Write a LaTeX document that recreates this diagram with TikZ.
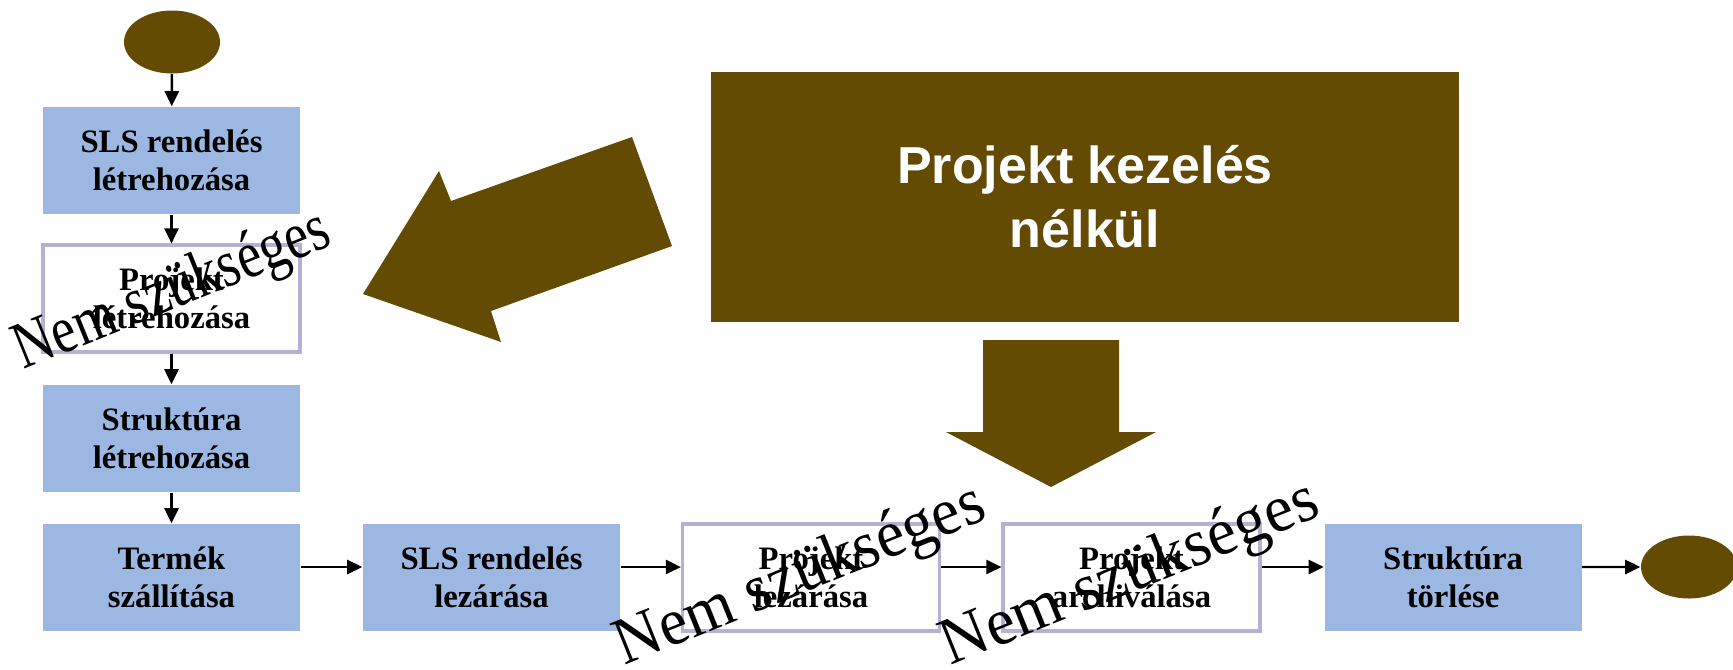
\documentclass[tikz,border=0pt]{standalone}
\usepackage{fontspec}
\usepackage{graphicx}
\setmainfont{Liberation Serif}
\newfontfamily\headfont{Liberation Sans}
\usetikzlibrary{arrows.meta,shapes.geometric}
\definecolor{brx}{RGB}{99,75,4}
\definecolor{blx}{RGB}{155,183,226}
\definecolor{lvx}{RGB}{180,177,211}
\tikzset{
    akti/.style={fill=blx,inner sep=0pt,minimum width=2.57cm,minimum height=1.07cm,
        align=center,font=\bfseries\fontsize{9.3}{10.8}\selectfont},
    proj/.style={akti,fill=white,draw=lvx,line width=0.9pt},
    ovx/.style={brx,fill,ellipse,inner sep=0pt,minimum width=0.96cm,minimum height=0.63cm},
    nyil/.style={-{Triangle[length=4.3pt,width=4pt]},line width=0.7pt},
    nemsz/.style={rotate=22,anchor=base west,inner sep=0pt,font=\fontsize{19}{22}\selectfont}
}

\begin{document}
\begin{tikzpicture}
            \useasboundingbox (0,0) rectangle (17.33,-6.69);
            % start and end
            \node [ovx] (ovs) at (1.72,-0.42) {};
            \node [ovx] (ove) at (16.89,-5.67) {};
            % left column
            \node [akti] (b1) at (1.715,-1.605) {SLS rendelés\\létrehozása};
            \node [proj] (b2) at (1.715,-2.985) {Projekt\\létrehozása};
            \node [akti] (b3) at (1.715,-4.385) {Struktúra\\létrehozása};
            \node [akti] (b4) at (1.715,-5.775) {Termék\\szállítása};
            % bottom row
            \node [akti] (b5) at (4.915,-5.775) {SLS rendelés\\lezárása};
            \node [proj] (b6) at (8.11,-5.775) {Projekt\\lezárása};
            \node [proj] (b7) at (11.315,-5.775) {Projekt\\archiválása};
            \node [akti] (b8) at (14.53,-5.775) {Struktúra\\törlése};
            \draw [nyil] (ovs) -- (b1);
            \draw [nyil] (b1) -- (b2);
            \draw [nyil] (b2) -- (b3);
            \draw [nyil] (b3) -- (b4);
            \draw [nyil] ([yshift=1.05mm]b4.east) -- ([yshift=1.05mm]b5.west);
            \draw [nyil] ([yshift=1.05mm]b5.east) -- ([yshift=1.05mm]b6.west);
            \draw [nyil] ([yshift=1.05mm]b6.east) -- ([yshift=1.05mm]b7.west);
            \draw [nyil] ([yshift=1.05mm]b7.east) -- ([yshift=1.05mm]b8.west);
            \draw [nyil] ([yshift=1.05mm]b8.east) -- (ove);
            % title box and block arrows
            \node [fill=brx,text=white,minimum width=7.48cm,minimum height=2.5cm,align=center,
                font=\headfont\bfseries\fontsize{14.8}{18.2}\selectfont] (pk) at (10.85,-1.97)
                {Projekt kezelés\\nélkül};
            \fill [brx] (6.32,-1.37) -- (4.51,-2.01) -- (4.39,-1.71) -- (3.63,-2.94)
                -- (5.01,-3.42) -- (4.91,-3.11) -- (6.72,-2.46) -- cycle;
            \fill [brx] (9.83,-3.40) -- (11.19,-3.40) -- (11.19,-4.32) -- (11.56,-4.32)
                -- (10.51,-4.87) -- (9.46,-4.32) -- (9.83,-4.32) -- cycle;
            % overprinted notes
            \node [nemsz] (nsz1) at (0.23,-3.70) {\scalebox{0.81}[1]{Nem szükséges}};
            \node [nemsz] (nsz2) at (6.24,-6.66) {\scalebox{0.95}[1]{Nem szükséges}};
            \node [nemsz] (nsz3) at (9.50,-6.66) {\scalebox{0.97}[1]{Nem szükséges}};
        \end{tikzpicture}
\end{document}
